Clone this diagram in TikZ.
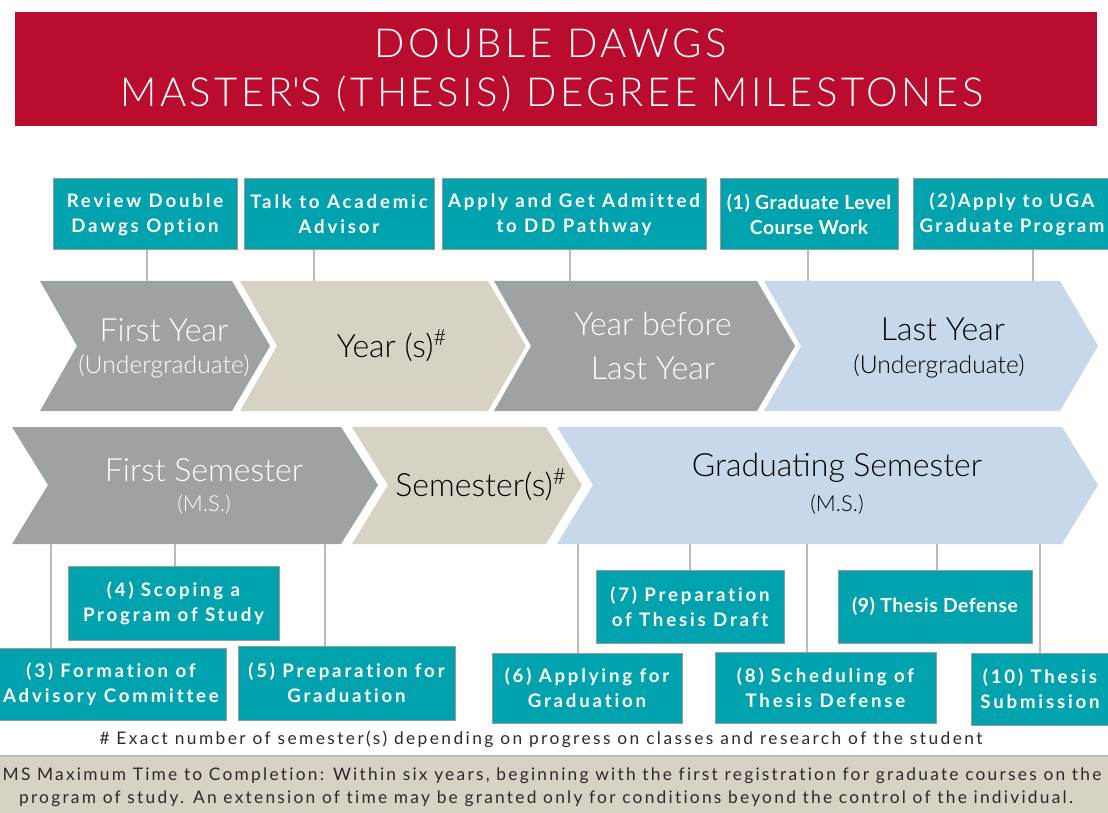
\documentclass[tikz,border=0pt]{standalone}
\usepackage{fontspec}
\usetikzlibrary{fit}
\setmainfont{Lato}
\newfontfamily\lightfont{Lato Light}
\newfontfamily\titlefont[LetterSpace=9]{Lato Light}
\newfontfamily\boxfont[LetterSpace=15,Ligatures=NoCommon]{Lato}
\newfontfamily\boxfontb[LetterSpace=12.5,Ligatures=NoCommon]{Lato}
\newfontfamily\boxfontn[LetterSpace=3,Ligatures=NoCommon]{Lato}
\newfontfamily\notefont[LetterSpace=14,Ligatures=NoCommon]{Lato}
\newfontfamily\bandfont[LetterSpace=13,Ligatures=NoCommon]{Lato}
\definecolor{ugared}{HTML}{BA0C2F}
\definecolor{tealbox}{HTML}{00A3AD}
\definecolor{chevgray}{HTML}{9EA2A2}
\definecolor{chevbeige}{HTML}{D6D2C4}
\definecolor{chevblue}{HTML}{C8D8EB}
\definecolor{connc}{HTML}{BBBBBB}
\definecolor{boxline}{HTML}{9A9A9A}
\definecolor{darktext}{HTML}{2A2A2A}
\tikzset{
  tbox/.style={draw=boxline, line width=0.75pt, fill=tealbox, inner sep=0pt},
  btext/.style={text=white, inner sep=0pt, align=center, font=\boxfont\bfseries\fontsize{14}{18.75}\selectfont},
  btextn/.style={btext, font=\boxfontn\bfseries\fontsize{14.5}{18.75}\selectfont},
  conn/.style={draw=connc, line width=1.1pt},
  bigw/.style={text=white, inner sep=0pt, font=\lightfont\fontsize{24}{27}\selectfont},
  bigb/.style={text=black, inner sep=0pt, font=\lightfont\fontsize{24}{27}\selectfont},
  smallw/.style={text=white, inner sep=0pt, font=\lightfont\fontsize{18.5}{20}\selectfont},
  smallb/.style={text=black, inner sep=0pt, font=\lightfont\fontsize{18.5}{20}\selectfont},
  msw/.style={text=white, inner sep=0pt, font=\lightfont\fontsize{16.5}{20}\selectfont},
  msb/.style={text=black, inner sep=0pt, font=\lightfont\fontsize{16.5}{20}\selectfont},
  note/.style={text=darktext, inner sep=0pt, font=\notefont\fontsize{13}{15}\selectfont},
  band/.style={text=darktext, inner sep=0pt, font=\bandfont\fontsize{13}{15}\selectfont},
  ttl/.style={text=white, inner sep=0pt, font=\titlefont\fontsize{30}{32}\selectfont},
}
\begin{document}
\begin{tikzpicture}[x=0.75pt, y=-0.75pt]
\useasboundingbox (0,0) rectangle (1108,813);
% title
\fill[ugared] (15,12) rectangle (1097,126);
\node[ttl] (t1) at (551,43) {DOUBLE DAWGS};
\node[ttl] (t2) at (552,94) {MASTER\textquotesingle S (THESIS) DEGREE MILESTONES};
% row 1 chevrons
\fill[chevgray]  (40,281) -- (232,281) -- (270,346) -- (232,411) -- (40,411) -- (77,346) -- cycle;
\fill[chevbeige] (240,281) -- (488,281) -- (526,346) -- (488,411) -- (240,411) -- (277,346) -- cycle;
\fill[chevgray]  (494,281) -- (757,281) -- (795,346) -- (757,411) -- (494,411) -- (531,346) -- cycle;
\fill[chevblue]  (764,281) -- (1060,281) -- (1098,346) -- (1060,411) -- (764,411) -- (801,346) -- cycle;
\node[bigw] (c1a) at (164,330) {First Year};
\node[smallw] (c1b) at (164,366) {(Undergraduate)};
\node[bigb] (c2a) at (392,346) {Year (s)\textsuperscript{\#}};
\node[bigw] (c3a) at (653,324) {Year before};
\node[bigw] (c3b) at (653,368) {Last Year};
\node[bigb] (c4a) at (943,329) {Last Year};
\node[smallb] (c4b) at (939,366) {(Undergraduate)};
% row 2 chevrons
\fill[chevgray]  (12,427) -- (341,427) -- (378,485) -- (341,544) -- (12,544) -- (48,485) -- cycle;
\fill[chevbeige] (352,427) -- (546,427) -- (582,485) -- (546,544) -- (352,544) -- (388,485) -- cycle;
\fill[chevblue]  (557,427) -- (1062,427) -- (1098,485) -- (1062,544) -- (557,544) -- (593,485) -- cycle;
\node[bigw] (s1a) at (204,470) {First Semester};
\node[msw] (s1b) at (204,505) {(M.S.)};
\node[bigb] (s2a) at (481,485) {Semester(s)\textsuperscript{\#}};
\node[bigb] (s3a) at (837,468) {Graduating Semester};
\node[msb] (s3b) at (837,505) {(M.S.)};
% connector anchor points on chevrons
\coordinate (u1) at (147,281);
\coordinate (u2) at (314,281);
\coordinate (u3) at (570,281);
\coordinate (u4) at (808,281);
\coordinate (u5) at (1033,281);
\coordinate (l3) at (51,544);
\coordinate (l4) at (175,544);
\coordinate (l5) at (325,544);
\coordinate (l6) at (578,544);
\coordinate (l7) at (690,544);
\coordinate (l8) at (807,544);
\coordinate (l9) at (937,544);
\coordinate (l10) at (1040,544);
% top boxes
\node[tbox, fit={(53,179)(237,250)}] (b1) {};
\node[tbox, fit={(244,179)(434,250)}] (b2) {};
\node[tbox, fit={(442,179)(706,250)}] (b3) {};
\node[tbox, fit={(720,179)(898,250)}] (b4) {};
\node[tbox, fit={(913,179)(1114,250)}] (b5) {};
\node[btext] (b1t) at (b1.center) {Review Double\\Dawgs Option};
\node[btext] (b2t) at (b2.center) {Talk to Academic\\Advisor};
\node[btext] (b3t) at (b3.center) {Apply and Get Admitted\\to DD Pathway};
\node[btextn] (b4t) at (b4.center) {(1) Graduate Level\\Course Work};
\node[btext, font=\boxfontb\bfseries\fontsize{14}{18.75}\selectfont] (b5t) at (1012,214) {(2)Apply to UGA\\Graduate Program};
\draw[conn] (u1 |- b1.south) -- (u1);
\draw[conn] (u2 |- b2.south) -- (u2);
\draw[conn] (u3 |- b3.south) -- (u3);
\draw[conn] (u4 |- b4.south) -- (u4);
\draw[conn] (u5 |- b5.south) -- (u5);
% bottom boxes
\node[tbox, fit={(68,566)(279,640)}] (m4) {};
\node[tbox, fit={(-4,648)(226,720)}] (m3) {};
\node[tbox, fit={(238,646)(455,720)}] (m5) {};
\node[tbox, fit={(492,653)(682,723)}] (m6) {};
\node[tbox, fit={(596,570)(784,643)}] (m7) {};
\node[tbox, fit={(715,652)(936,723)}] (m8) {};
\node[tbox, fit={(838,570)(1032,643)}] (m9) {};
\node[tbox, fit={(971,653)(1114,725)}] (m10) {};
\node[btext] (m4t) at (m4.center) {(4) Scoping a\\Program of Study};
\node[btext] (m3t) at (111,684) {(3) Formation of\\Advisory Committee};
\node[btext] (m5t) at (m5.center) {(5) Preparation for\\Graduation};
\node[btext] (m6t) at (m6.center) {(6) Applying for\\Graduation};
\node[btext] (m7t) at (m7.center) {(7) Preparation\\of Thesis Draft};
\node[btext] (m8t) at (m8.center) {(8) Scheduling of\\Thesis Defense};
\node[btextn] (m9t) at (m9.center) {(9) Thesis Defense};
\node[btext] (m10t) at (1040,689) {(10) Thesis\\Submission};
\draw[conn] (l3) -- (l3 |- m3.north);
\draw[conn] (l4) -- (l4 |- m4.north);
\draw[conn] (l5) -- (l5 |- m5.north);
\draw[conn] (l6) -- (l6 |- m6.north);
\draw[conn] (l7) -- (l7 |- m7.north);
\draw[conn] (l8) -- (l8 |- m8.north);
\draw[conn] (l9) -- (l9 |- m9.north);
\draw[conn] (l10) -- (l10 |- m10.north);
% footnote
\node[note] (fn) at (541,739) {\# Exact number of semester(s) depending on progress on classes and research of the student};
% bottom band
\fill[chevbeige] (0,757) rectangle (1108,813);
\draw[draw=connc, line width=1.5pt] (0,756) -- (1108,756);
\node[band] (bn1) at (552,776) {MS Maximum Time to Completion: Within six years, beginning with the first registration for graduate courses on the};
\node[band] (bn2) at (546,799) {program of study. An extension of time may be granted only for conditions beyond the control of the individual.};
\end{tikzpicture}
\end{document}
